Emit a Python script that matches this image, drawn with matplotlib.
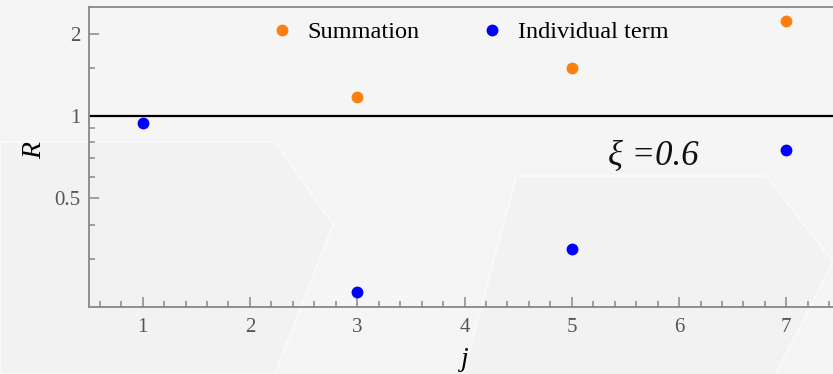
import matplotlib
matplotlib.use("Agg")
import matplotlib.pyplot as plt
from matplotlib.ticker import FixedLocator, NullFormatter, FixedFormatter
from matplotlib.patches import Polygon

# Data
j_sum = [3, 5, 7]
r_sum = [1.17, 1.49, 2.23]
j_ind = [1, 3, 5, 7]
r_ind = [0.941, 0.227, 0.325, 0.751]
x_ticks = [1, 2, 3, 4, 5, 6, 7]
y_ticks = [0.5, 1, 2]
y_ticklabels = ["0.5", "1", "2"]
y_minor = [0.3, 0.4, 0.6, 0.7, 0.8, 0.9, 1.5]

plt.rcParams['font.family'] = ['Liberation Serif', 'DejaVu Serif']

W, H = 833, 374
fig = plt.figure(figsize=(W / 100, H / 100), dpi=100, facecolor='#f5f5f5')

# very faint decorative background hexagons
for pts in [[(0.33, 0.62), (0.40, 0.40), (0.33, 0.0), (0.0, 0.0), (0.0, 0.62)],
            [(0.62, 0.53), (0.92, 0.53), (1.0, 0.3), (0.92, -0.05), (0.55, -0.05)]]:
    fig.patches.append(Polygon(pts, closed=True, transform=fig.transFigure,
                               facecolor='#f2f2f2', edgecolor='#f9f9f9', lw=1.5, zorder=-5))

left, right, bottom, top = 89, 840, 307, 7
ax = fig.add_axes([left / W, 1 - bottom / H, (right - left) / W, (bottom - top) / H])
ax.set_facecolor('none')

ax.set_yscale('log')
ax.set_xlim(0.5, 7.5)
ax.set_ylim(0.2, 2.5)

ax.axhline(1, color='black', lw=1.6, zorder=2)

orange = '#ff7f0e'
blue = '#0000ff'
ax.plot(j_sum, r_sum, 'o', color=orange, ms=7.5, label='Summation', zorder=3)
ax.plot(j_ind, r_ind, 'o', color=blue, ms=7.5, label='Individual term', zorder=3)

ax.xaxis.set_major_locator(FixedLocator(x_ticks))
ax.xaxis.set_minor_locator(FixedLocator([x / 5 for x in range(3, 38) if x % 5 != 0]))
ax.yaxis.set_major_locator(FixedLocator(y_ticks))
ax.yaxis.set_major_formatter(FixedFormatter(y_ticklabels))
ax.yaxis.set_minor_locator(FixedLocator(y_minor))
ax.yaxis.set_minor_formatter(NullFormatter())

spine_c = '#888888'
for s in ['left', 'bottom', 'top', 'right']:
    ax.spines[s].set_color(spine_c)
    ax.spines[s].set_linewidth(1.3)

ax.tick_params(which='both', direction='in', color=spine_c, width=1.1,
               labelcolor='#555555', labelsize=15, top=False, right=False)
ax.tick_params(which='major', length=7)
ax.tick_params(which='minor', length=4)
ax.tick_params(axis='x', pad=8)
ax.tick_params(axis='y', pad=6)

ax.text(5.756, 0.709, 'ξ =0.6', fontsize=25, style='italic', ha='center', va='center', color='#111111')

fig.text(35 / W, 1 - 150 / H, 'R', fontsize=20, style='italic', rotation=90, ha='center', va='center')
fig.text(465 / W, 1 - 360 / H, 'j', fontsize=20, style='italic', ha='center', va='center')

ax.legend(ncol=2, frameon=False, loc='center', bbox_to_anchor=(469 / W, 1 - 32 / H),
          bbox_transform=fig.transFigure, fontsize=17.5, handlelength=1.0,
          handletextpad=0.55, columnspacing=2.5, markerscale=1.0)

fig.savefig('out.png', dpi=100, facecolor=fig.get_facecolor())
